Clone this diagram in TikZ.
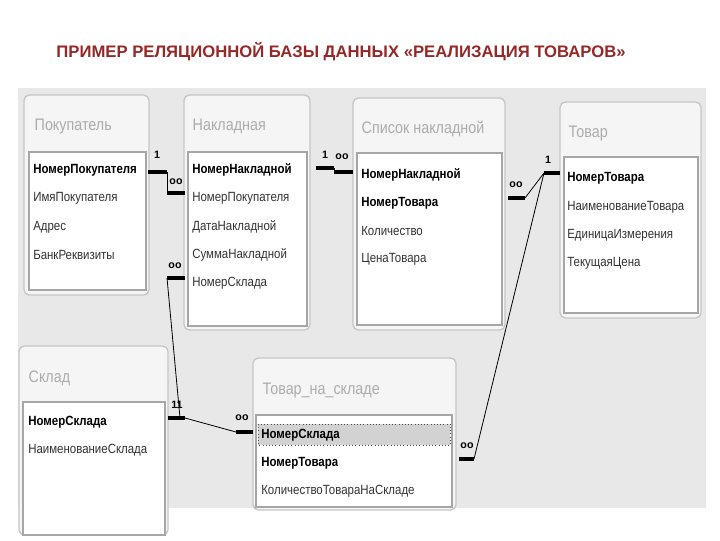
\documentclass[tikz,border=0pt]{standalone}
\usepackage{fontspec}
\setmainfont{Liberation Sans}
\newfontfamily\narrowf[FakeStretch=0.86]{Liberation Sans}
\begin{document}
\begin{tikzpicture}[x=0.75pt,y=-0.75pt,
  frame/.style={draw=gray!45,fill=gray!8,rounded corners=4pt,line width=1pt},
  body/.style={draw=gray!70,fill=white,line width=1.2pt},
  hdr/.style={anchor=west,text=gray!65,font=\narrowf\fontsize{12.5}{13}\selectfont},
  fld/.style={anchor=west,inner sep=0pt,font=\narrowf\fontsize{10}{10}\selectfont,text=black!80},
  key/.style={fld,font=\narrowf\fontsize{10}{10}\selectfont\bfseries,text=black},
  bar/.style={line width=2.5pt},
  rel/.style={line width=0.6pt},
  lab/.style={font=\bfseries\fontsize{8}{8}\selectfont,inner sep=0pt}]
\useasboundingbox (0,0) rectangle (720,540);
\fill[white] (0,0) rectangle (720,540);
\fill[gray!18] (18,88) rectangle (706,508);
\node (title) at (341,52) {\textcolor[RGB]{150,40,40}{\bfseries\fontsize{12.5}{13}\selectfont ПРИМЕР РЕЛЯЦИОННОЙ БАЗЫ ДАННЫХ «РЕАЛИЗАЦИЯ ТОВАРОВ»}};
% Покупатель
\draw[frame] (24,95) rectangle (149,295);
\draw[body] (29,152) rectangle (146,290);
\node[hdr] (t1) at (30,126) {Покупатель};
\node[key] (p1) at (33,170) {НомерПокупателя};
\node[fld] (p2) at (33,198) {ИмяПокупателя};
\node[fld] (p3) at (33,227) {Адрес};
\node[fld] (p4) at (33,255) {БанкРеквизиты};
% Накладная
\draw[frame] (184,95) rectangle (310,330);
\draw[body] (188,152) rectangle (307,326);
\node[hdr] (t2) at (188,126) {Накладная};
\node[key] (n1) at (192,170) {НомерНакладной};
\node[fld] (n2) at (192,198) {НомерПокупателя};
\node[fld] (n3) at (192,227) {ДатаНакладной};
\node[fld] (n4) at (192,255) {СуммаНакладной};
\node[fld] (n5) at (192,283) {НомерСклада};
% Список накладной
\draw[frame] (353,98) rectangle (505,330);
\draw[body] (357,153) rectangle (502,325);
\node[hdr] (t3) at (357,129) {Список накладной};
\node[key] (s1) at (361,175) {НомерНакладной};
\node[key] (s2) at (361,203) {НомерТовара};
\node[fld] (s3) at (361,231) {Количество};
\node[fld] (s4) at (361,259) {ЦенаТовара};
% Товар
\draw[frame] (560,102) rectangle (701,318);
\draw[body] (564,157) rectangle (698,313);
\node[hdr] (t4) at (564,133) {Товар};
\node[key] (g1) at (567,178) {НомерТовара};
\node[fld] (g2) at (567,207) {НаименованиеТовара};
\node[fld] (g3) at (567,235) {ЕдиницаИзмерения};
\node[fld] (g4) at (567,263) {ТекущаяЦена};
% Склад
\draw[frame] (19,346) rectangle (168,535);
\draw[body] (23,402) rectangle (165,535);
\node[hdr] (t5) at (24,378) {Склад};
\node[key] (k1) at (28,422) {НомерСклада};
\node[fld] (k2) at (28,450) {НаименованиеСклада};
% Товар_на_складе
\draw[frame] (253,358) rectangle (456,510);
\draw[body] (256,415) rectangle (452,507);
\node[hdr] (t6) at (258,390) {Товар\_на\_складе};
\fill[gray!35] (258,424) rectangle (450,445);
\draw[dotted,black!70] (258,424) rectangle (450,445);
\node[key] (w1) at (261,435) {НомерСклада};
\node[key] (w2) at (261,463) {НомерТовара};
\node[fld] (w3) at (261,491) {КоличествоТовараНаСкладе};
% connectors
\coordinate (a1) at (148,172); \coordinate (a2) at (167,172);
\coordinate (a3) at (167,193); \coordinate (a4) at (185,193);
\draw[bar] (a1) -- (a2); \draw[rel] (a2) -- (a3); \draw[bar] (a3) -- (a4);
\node[lab] (l1) at (157,155) {1}; \node[lab] (l2) at (176,182) {oo};
\coordinate (b1) at (316,168); \coordinate (b2) at (334,168);
\coordinate (b3) at (334,172); \coordinate (b4) at (353,172);
\draw[bar] (b1) -- (b2); \draw[rel] (b2) -- (b3); \draw[bar] (b3) -- (b4);
\node[lab] (l3) at (325,155) {1}; \node[lab] (l4) at (342,157) {oo};
\coordinate (c1) at (508,198); \coordinate (c2) at (525,198);
\coordinate (c3) at (544,173); \coordinate (c4) at (560,173);
\draw[bar] (c1) -- (c2); \draw[rel] (c2) -- (c3); \draw[bar] (c3) -- (c4);
\node[lab] (l5) at (516,185) {oo}; \node[lab] (l6) at (548,160) {1};
\coordinate (d1) at (459,459); \coordinate (d2) at (474,459);
\draw[bar] (d1) -- (d2); \draw[rel] (d2) -- (c3);
\node[lab] (l7) at (467,446) {oo};
\coordinate (e1) at (168,418); \coordinate (e2) at (185,418);
\coordinate (e3) at (236,432); \coordinate (e4) at (253,432);
\draw[bar] (e1) -- (e2); \draw[rel] (e2) -- (e3); \draw[bar] (e3) -- (e4);
\node[lab] (l8) at (177,405) {11}; \node[lab] (l9) at (242,418) {oo};
\coordinate (f1) at (167,278); \coordinate (f2) at (185,278);
\draw[bar] (f1) -- (f2); \draw[rel] (f1) -- (180,418);
\node[lab] (l10) at (175,266) {oo};
\end{tikzpicture}
\end{document}
